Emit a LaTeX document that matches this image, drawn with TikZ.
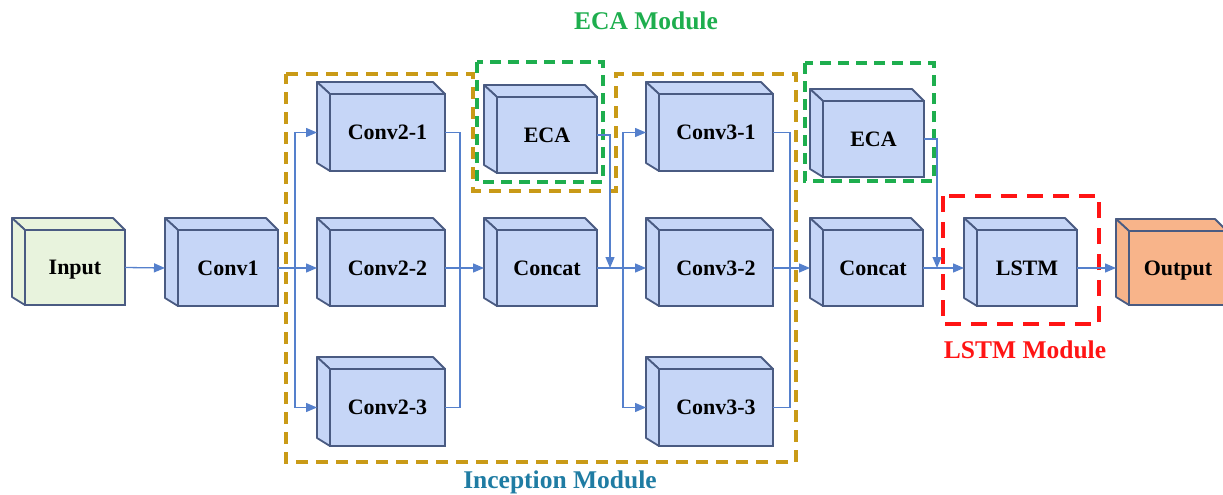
\documentclass[tikz,border=0pt]{standalone}
\usepackage{fontspec}
\setmainfont{Liberation Serif}
\usetikzlibrary{arrows.meta,calc}

\definecolor{blockblue}{HTML}{C6D6F7}
\definecolor{inputgreen}{HTML}{E8F3DD}
\definecolor{outputorange}{HTML}{F8B48A}
\definecolor{edgecol}{HTML}{4A5B82}
\definecolor{linkblue}{HTML}{5580CC}
\definecolor{incgold}{HTML}{C99A17}
\definecolor{ecagreen}{HTML}{1EAE4E}
\definecolor{lstmred}{HTML}{FF1414}
\definecolor{inctext}{HTML}{1F7CA3}

% a cuboid block: front face is the named node, top and left faces drawn from its anchors
\newcommand{\cuboid}[7]{%
  \node[face, fill=#6, minimum width=#4, minimum height=#5] (#1) at (#2,#3) {#7};
  \filldraw[faceedge, fill=#6] (#1.north west) -- ++(-13,-12)
     -- ($(#1.north east)+(-12,-12)$) -- (#1.north east) -- cycle;
  \filldraw[faceedge, fill=#6] (#1.north west) -- ++(-13,-12)
     -- ($(#1.south west)+(-13,-8)$) -- (#1.south west) -- cycle;
  \coordinate (#1-in) at ($(#1.west)+(-13,0)$);
}

\begin{document}
\begin{tikzpicture}[x=1pt, y=-1pt,
  face/.style={draw=edgecol, line width=1.8pt, rectangle, inner sep=0pt, outer sep=0pt,
    font=\fontsize{22}{24}\selectfont\bfseries, text height=14pt, text depth=0pt},
  faceedge/.style={draw=edgecol, line width=1.8pt, line join=round},
  conn/.style={draw=linkblue, line width=1.3pt},
  arr/.style={conn, -{Triangle[length=11pt, width=9pt]}},
  goldbox/.style={draw=incgold, line width=3.6pt, dash pattern=on 12pt off 8pt},
  greenbox/.style={draw=ecagreen, line width=3.6pt, dash pattern=on 11pt off 7pt},
  redbox/.style={draw=lstmred, line width=4.6pt, dash pattern=on 16pt off 10pt},
  modlabel/.style={font=\fontsize{25.5}{28}\selectfont\bfseries, inner sep=0pt}
]
\useasboundingbox (0,0) rectangle (1223,495);

% module outlines (behind the blocks)
\draw[goldbox] (286,74) -- (473,74) -- (473,191) -- (616,191) -- (616,74)
   -- (796,74) -- (796,462) -- (286,462) -- cycle;
\draw[greenbox] (477,62) rectangle (603,182);
\draw[greenbox] (805,63) rectangle (934,181);
\draw[redbox] (943,196) rectangle (1099,324);

% blocks
\cuboid{input}{75}{267.5}{100}{75}{inputgreen}{Input}
\cuboid{conv1}{228}{268}{100}{76}{blockblue}{Conv1}
\cuboid{conv21}{387.5}{132.5}{115}{77}{blockblue}{Conv2-1}
\cuboid{conv22}{387.5}{268}{115}{76}{blockblue}{Conv2-2}
\cuboid{conv23}{387.5}{407.5}{115}{77}{blockblue}{Conv2-3}
\cuboid{eca1}{547}{135}{100}{76}{blockblue}{ECA}
\cuboid{concat1}{547}{268}{100}{76}{blockblue}{Concat}
\cuboid{conv31}{716}{132.5}{114}{77}{blockblue}{Conv3-1}
\cuboid{conv32}{716}{268}{114}{76}{blockblue}{Conv3-2}
\cuboid{conv33}{716}{407.5}{114}{77}{blockblue}{Conv3-3}
\cuboid{eca2}{873.5}{139}{101}{76}{blockblue}{ECA}
\cuboid{concat2}{873}{268}{100}{76}{blockblue}{Concat}
\cuboid{lstm}{1027}{268}{100}{76}{blockblue}{LSTM}
\cuboid{output}{1178}{268}{98}{74}{outputorange}{Output}

% branch and merge points
\coordinate (split1) at (295,268);
\coordinate (merge1) at (460,268);
\coordinate (drop1) at (610,268);
\coordinate (split2) at (623,268);
\coordinate (merge2) at (790,268);
\coordinate (drop2) at (937,268);

% connectors
\draw[arr] (input.east) -- (conv1-in);
\draw[conn] (conv1.east) -- (split1);
\draw[arr] (split1) |- (conv21-in);
\draw[arr] (split1) -- (conv22-in);
\draw[arr] (split1) |- (conv23-in);

\draw[conn] (conv21.east) -| (merge1);
\draw[conn] (conv23.east) -| (merge1);
\draw[arr] (conv22.east) -- (concat1-in);

\draw[arr] (eca1.east) -| (drop1);
\draw[conn] (concat1.east) -- (split2);
\draw[arr] (split2) |- (conv31-in);
\draw[arr] (split2) -- (conv32-in);
\draw[arr] (split2) |- (conv33-in);

\draw[conn] (conv31.east) -| (merge2);
\draw[conn] (conv33.east) -| (merge2);
\draw[arr] (conv32.east) -- (concat2-in);

\draw[arr] (eca2.east) -| (drop2);
\draw[arr] (concat2.east) -- (lstm-in);
\draw[arr] (lstm.east) -- (output-in);

% module labels
\node[modlabel, text=ecagreen] (ecalabel) at (646,21) {ECA Module};
\node[modlabel, text=lstmred] (lstmlabel) at (1025,350) {LSTM Module};
\node[modlabel, text=inctext] (inclabel) at (560,482) {Inception Module};
\end{tikzpicture}
\end{document}
